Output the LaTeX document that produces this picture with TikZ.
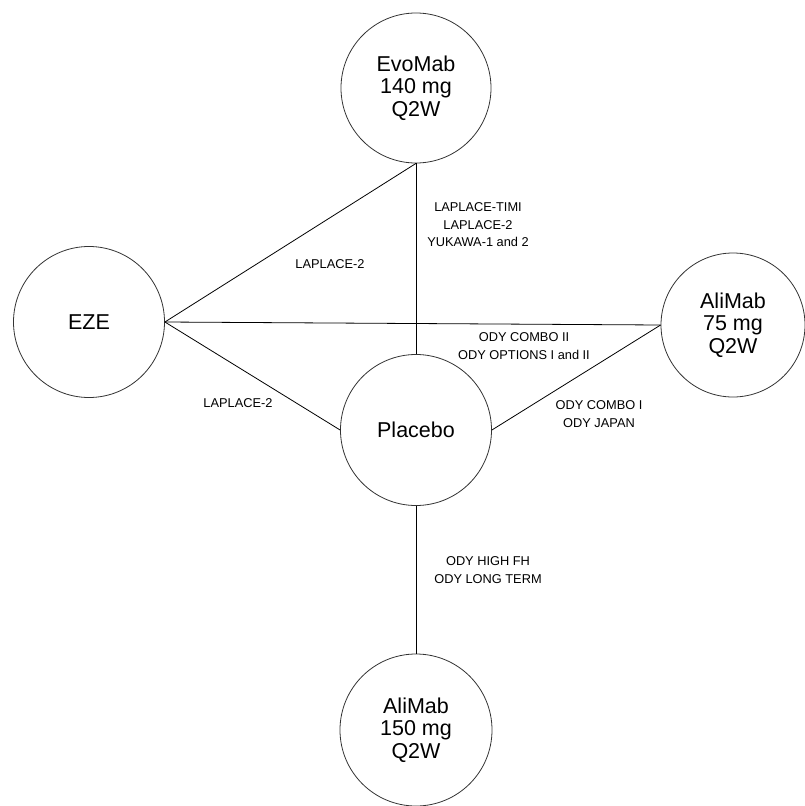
\documentclass[tikz,border=0pt]{standalone}
\usepackage{fontspec}
\setmainfont{Liberation Sans}
\usepackage{tikz}
\usetikzlibrary{positioning}

\tikzset{
    arm/.style={circle, draw=black!80, line width=0.8pt, inner sep=0pt, align=center,
        font=\fontsize{21.5}{22.5}\selectfont},
    link/.style={draw, line width=0.8pt},
    study/.style={align=center, inner sep=0pt, font=\fontsize{12.8}{17.5}\selectfont}
}

\begin{document}
\begin{tikzpicture}[x=1pt, y=-1pt]

    \useasboundingbox (0,0) rectangle (804,806);

    % treatment arms
    \node[arm, minimum size=150pt] (evo) at (416,88) {EvoMab\\140 mg\\Q2W};
    \node[arm, minimum size=151pt] (eze) at (89,322) {EZE};
    \node[arm, minimum size=144pt] (ali75) at (733,325) {AliMab\\75 mg\\Q2W};
    \node[arm, minimum size=151pt] (placebo) at (416,430) {Placebo};
    \node[arm, minimum size=152pt] (ali150) at (416,730) {AliMab\\150 mg\\Q2W};

    % comparisons
    \path[link] (eze.east) -- (evo.south);
    \path[link] (eze.east) -- (ali75.west);
    \path[link] (eze.east) -- (placebo.west);
    \path[link] (evo.south) -- (placebo.north);
    \path[link] (placebo.east) -- (ali75.west);
    \path[link] (placebo.south) -- (ali150.north);

    % trial names
    \node[study] (lapA) at (330,264) {LAPLACE-2};
    \node[study] (lapB) at (238,403) {LAPLACE-2};
    \node[study] (timi) at (478,225) {LAPLACE-TIMI\\LAPLACE-2\\YUKAWA-1 and 2};
    \node[study] (comboII) at (524,346) {ODY COMBO II\\ODY OPTIONS I and II};
    \node[study] (comboI) at (599,414) {ODY COMBO I\\ODY JAPAN};
    \node[study] (highfh) at (488,570) {ODY HIGH FH\\ODY LONG TERM};

\end{tikzpicture}
\end{document}
